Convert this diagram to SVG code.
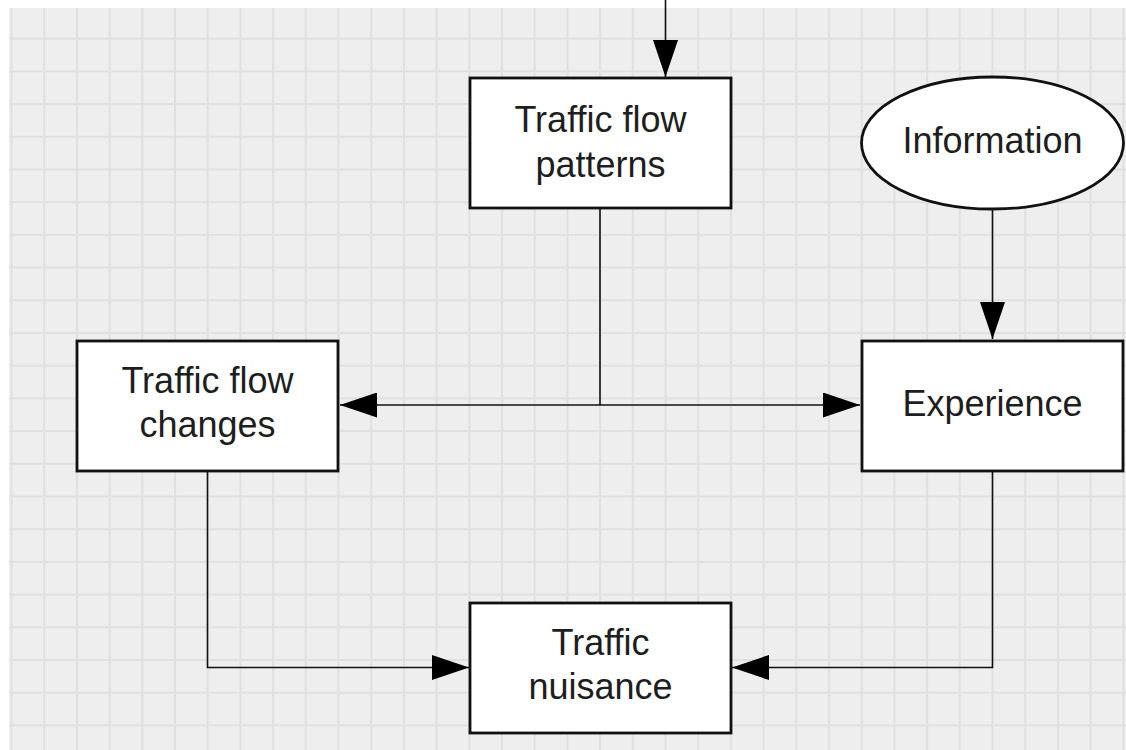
<svg xmlns="http://www.w3.org/2000/svg" width="1126" height="750" viewBox="0 0 1126 750">
  <style>
    .box { fill: #ffffff; stroke: #111111; stroke-width: 2.8; }
    .lbl { font-family: "Liberation Sans", Arial, sans-serif; font-size: 36px; fill: #1e1e1e; text-anchor: middle; }
    .conn { fill: none; stroke: #111111; stroke-width: 1.6; }
  </style>
  <defs>
    <pattern id="grid" patternUnits="userSpaceOnUse" x="10.5" y="5" width="32.7" height="32.7">
      <rect x="0" y="0" width="32.7" height="32.7" fill="#eeeeee"/>
      <path d="M1 0V32.7M0 1H32.7" stroke="#e0e0e0" stroke-width="2" fill="none"/>
    </pattern>
    <marker id="arr" markerUnits="userSpaceOnUse" markerWidth="37" markerHeight="25" refX="37" refY="12.5" orient="auto-start-reverse" viewBox="0 0 37 25">
      <path d="M0,0 L37,12.5 L0,25 Z" fill="#000000"/>
    </marker>
  </defs>
  <rect x="0" y="0" width="1126" height="750" fill="#ffffff"/>
  <rect x="9" y="8" width="1117" height="742" fill="url(#grid)"/>

  <g id="connectors">
    <path class="conn" d="M665.5,0 V77" marker-end="url(#arr)"/>
    <path class="conn" d="M600,208 V405"/>
    <path class="conn" d="M340,405 H860" marker-start="url(#arr)" marker-end="url(#arr)"/>
    <path class="conn" d="M992.5,209 V339" marker-end="url(#arr)"/>
    <path class="conn" d="M207.5,471 V667.5 H469" marker-end="url(#arr)"/>
    <path class="conn" d="M992.5,471 V667.5 H732" marker-end="url(#arr)"/>
  </g>

  <g id="node-patterns">
    <rect class="box" x="470" y="78" width="261" height="130"/>
    <text class="lbl" x="600.5" y="131.5">Traffic flow</text>
    <text class="lbl" x="600.5" y="176.5">patterns</text>
  </g>
  <g id="node-information">
    <ellipse class="box" cx="992.5" cy="143" rx="131" ry="66"/>
    <text class="lbl" x="992.5" y="153">Information</text>
  </g>
  <g id="node-changes">
    <rect class="box" x="77" y="341" width="261" height="130"/>
    <text class="lbl" x="207.5" y="393">Traffic flow</text>
    <text class="lbl" x="207.5" y="437">changes</text>
  </g>
  <g id="node-experience">
    <rect class="box" x="862" y="341" width="261" height="130"/>
    <text class="lbl" x="992.5" y="416">Experience</text>
  </g>
  <g id="node-nuisance">
    <rect class="box" x="470" y="603" width="261" height="130"/>
    <text class="lbl" x="600.5" y="655">Traffic</text>
    <text class="lbl" x="600.5" y="699">nuisance</text>
  </g>
</svg>
